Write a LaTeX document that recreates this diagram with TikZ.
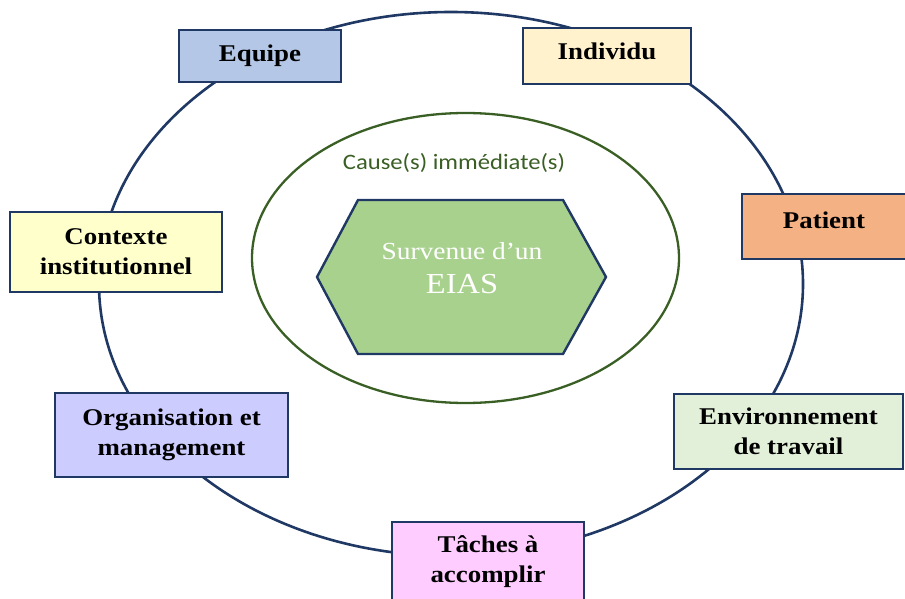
\documentclass[tikz,border=0pt]{standalone}
\usepackage{fontspec}
\newfontfamily\boxfont[FakeStretch=1.12]{Liberation Serif}
\newfontfamily\calfont[FakeStretch=1.12]{Carlito}
\definecolor{navy}{HTML}{203864}
\definecolor{dgreen}{HTML}{3A5F24}
\definecolor{cEquipe}{HTML}{B4C7E7}
\definecolor{cIndividu}{HTML}{FFF2CC}
\definecolor{cContexte}{HTML}{FFFFCC}
\definecolor{cPatient}{HTML}{F4B183}
\definecolor{cOrga}{HTML}{CCCCFF}
\definecolor{cEnv}{HTML}{E2F0D9}
\definecolor{cTaches}{HTML}{FFCCFF}
\definecolor{cHex}{HTML}{A9D18E}
\begin{document}
\begin{tikzpicture}[x=1pt,y=-1pt,
  catbox/.style={draw=navy, line width=2.9pt, rectangle, inner sep=0pt, align=center,
    font=\boxfont\bfseries\fontsize{24}{30}\selectfont, text=black},
  ring/.style={draw=navy, line width=2.6pt},
  inring/.style={draw=dgreen, line width=2.3pt}]
\useasboundingbox (0,0) rectangle (905,599);
% outer ellipse
\draw[ring] (451,284) ellipse [x radius=352, y radius=272];
% inner ellipse
\draw[inring] (465.5,258) ellipse [x radius=213.5, y radius=145];
\node[font=\calfont\fontsize{22}{26}\selectfont, text=dgreen, anchor=base] (cause) at (454,169) {Cause(s) immédiate(s)};
% hexagon
\draw[draw=navy, line width=2.4pt, fill=cHex] (317,277) -- (358,200) -- (563,200) -- (606,277) -- (563,354) -- (358,354) -- cycle;
\node[font=\boxfont\fontsize{24.5}{28}\selectfont, text=white, anchor=base] (surv) at (462,259) {Survenue d’un};
\node[font=\boxfont\fontsize{29}{32}\selectfont, text=white, anchor=base] (eias) at (462,293) {EIAS};
% boxes
\node[catbox, fill=cEquipe, minimum width=162pt, minimum height=52pt] (equipe) at (260,56) {Equipe};
\node[catbox, fill=cIndividu, minimum width=168pt, minimum height=56pt, text depth=10.4pt] (individu) at (607,56) {Individu};
\node[catbox, fill=cContexte, minimum width=212pt, minimum height=80pt] (contexte) at (116,252) {Contexte\\institutionnel};
\node[catbox, fill=cPatient, minimum width=164pt, minimum height=65pt, text depth=13.4pt] (patient) at (824,226.5) {Patient};
\node[catbox, fill=cOrga, minimum width=233pt, minimum height=84pt] (orga) at (171.5,435) {Organisation et\\management};
\node[catbox, fill=cEnv, minimum width=229pt, minimum height=75pt] (env) at (788.5,431.5) {Environnement\\de travail};
\node[catbox, fill=cTaches, minimum width=192pt, minimum height=80pt] (taches) at (488,562) {Tâches à\\accomplir};
\end{tikzpicture}
\end{document}
